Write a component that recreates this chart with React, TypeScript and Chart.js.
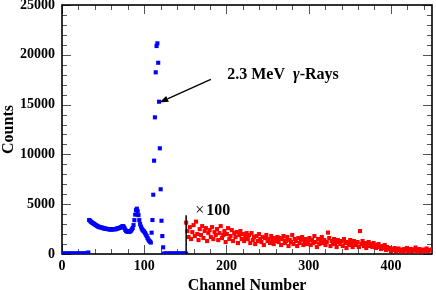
import React, { useEffect, useRef } from 'react';
import { Chart, registerables } from 'chart.js';

Chart.register(...registerables);

// Blue spectrum: counts per channel, channel = index (0..151)
const blueCounts = [
  30, 30, 30, 30, 30, 30, 30, 30, 30, 30, 30, 30, 30, 30, 30, 30, 30, 30, 30, 30,
  30, 30, 30, 30, 30, 30, 30, 30, 30, 40, 60, 90, 150,
  3410, 3350, 3250, 3200, 3120, 3080, 3020, 2960, 2910, 2860, 2800, 2760, 2720, 2690, 2670, 2650, 2640,
  2600, 2580, 2560, 2540, 2520, 2510, 2500, 2480, 2480, 2470, 2460, 2480, 2490, 2500, 2490, 2480, 2520,
  2560, 2580, 2600, 2620, 2660, 2700, 2760, 2800, 2750, 2600, 2420, 2320, 2260, 2240, 2230, 2240, 2280,
  2350, 2480, 2600, 2900, 3400, 3950, 4400, 4550, 4300, 3900, 3400, 3000, 2750, 2550, 2420, 2320, 2240,
  2100, 1950, 1800, 1600, 1450, 1330, 1240, 1150,
  2140, 3410, 5950, 9370, 13720, 18240, 20880, 21150, 19200, 15290, 10610, 6500, 3340, 1800, 670,
  30, 30, 30, 30, 30, 30, 30, 30, 30, 30, 30, 30, 30, 30, 30, 30, 30, 30, 30, 30, 30, 30, 30, 30, 30, 30, 30, 30,
];

// Red spectrum (x100): channels 151 .. 449.5, spacing 1.5 channels
const redStartChannel = 151;
const redChannelStep = 1.5;
const redCounts = [
  3150, 2300, 1700, 2700, 1500, 2200, 2900, 1800, 3250, 2000, 1400, 2500, 1900, 2800, 1600, 2300, 2600, 1300, 2100, 2400, 1700, 2700, 1500, 2200, 1900,
  2500, 1400, 2100, 2800, 1600, 1900, 2300, 1200, 2000, 2600, 1500, 1800, 2400, 1300, 2100, 1700, 2200, 1100, 1900, 2300, 1500, 2000, 1300, 1700, 2100,
  1500, 1900, 1100, 2100, 1400, 1700, 1000, 1800, 1300, 2000, 1500, 1200, 1700, 900, 1600, 1900, 1300, 1500, 1100, 1800, 1400, 1000, 1600, 1300, 1700,
  1200, 1600, 900, 1500, 1800, 1100, 1300, 1700, 800, 1400, 1200, 1900, 1000, 1500, 1300, 800, 1600, 1100, 1400, 1700, 900, 1300, 1500, 1000, 1200,
  1600, 900, 1400, 1100, 1800, 1200, 700, 1500, 1000, 1300, 1700, 1100, 1400, 900, 1200, 2150, 1600, 800, 1300, 1000, 1500, 1100, 700, 1400, 1200,
  1000, 1300, 800, 1500, 1100, 600, 1200, 900, 1400, 1000, 700, 1300, 900, 1100, 1200, 700, 2300, 1000, 1300, 800, 1100, 600, 900, 1200, 800,
  1000, 700, 1100, 800, 600, 900, 1000, 700, 500, 800, 600, 900, 400, 700, 500, 600, 300, 500, 400, 600, 300, 450, 550, 350, 250,
  450, 300, 500, 350, 600, 250, 400, 500, 300, 450, 350, 650, 250, 400, 500, 300, 350, 450, 250, 400, 550, 300, 400, 350, 450,
];

// Divider line between the two ranges
const dividerChannel = 151;
const dividerTop = 3900;

// Axes
const xMin = 0;
const xMax = 450;
const yMin = 0;
const yMax = 25000;
const xTickValues = [0, 100, 200, 300, 400];
const yTickValues = [0, 5000, 10000, 15000, 20000, 25000];
const xMinorStep = 20;
const yMinorStep = 1000;

const xTitle = 'Channel Number';
const yTitle = 'Counts';
const peakLabelA = '2.3 MeV ';
const peakLabelGamma = 'γ';
const peakLabelB = '-Rays';
const scaleLabel = '×100';

// Annotation anchor points (data coordinates)
const arrowTip = { x: 118.4, y: 15200 };
const arrowTail = { x: 181, y: 17540 };
const peakLabelPos = { x: 201, y: 17540 };
const scaleLabelPos = { x: 162, y: 3900 };

const FONT = '"Liberation Serif", "Times New Roman", serif';

const framePlugin = {
  id: 'frameTicks',
  beforeDatasetsDraw(chart: any) {
    const { ctx, chartArea, scales } = chart;
    const { left, right, top, bottom } = chartArea;
    const xs = scales.x;
    const ys = scales.y;
    ctx.save();
    ctx.strokeStyle = '#555';
    ctx.lineWidth = 1;
    ctx.beginPath();
    for (let v = xMin; v <= xMax; v += xMinorStep) {
      const px = Math.round(xs.getPixelForValue(v)) + 0.5;
      const len = v % 100 === 0 ? 9 : 5;
      ctx.moveTo(px, bottom);
      ctx.lineTo(px, bottom - len);
      ctx.moveTo(px, top);
      ctx.lineTo(px, top + len);
    }
    for (let v = yMin; v <= yMax; v += yMinorStep) {
      const py = Math.round(ys.getPixelForValue(v)) + 0.5;
      const len = v % 5000 === 0 ? 9 : 5;
      ctx.moveTo(left, py);
      ctx.lineTo(left + len, py);
      ctx.moveTo(right, py);
      ctx.lineTo(right - len, py);
    }
    ctx.stroke();
    ctx.strokeStyle = '#000';
    ctx.lineWidth = 1.6;
    ctx.strokeRect(left, top, right - left, bottom - top);
    ctx.restore();
  },
  afterDatasetsDraw(chart: any) {
    const { ctx, chartArea, scales } = chart;
    const xs = scales.x;
    const ys = scales.y;
    ctx.save();
    ctx.fillStyle = '#000';
    ctx.strokeStyle = '#000';

    // Axis titles
    ctx.font = `bold 16px ${FONT}`;
    ctx.textAlign = 'center';
    ctx.textBaseline = 'alphabetic';
    ctx.fillText(xTitle, (chartArea.left + chartArea.right) / 2, 289.5);
    ctx.save();
    ctx.translate(12.5, (chartArea.top + chartArea.bottom) / 2);
    ctx.rotate(-Math.PI / 2);
    ctx.fillText(yTitle, 0, 0);
    ctx.restore();

    // Peak label
    const lx = xs.getPixelForValue(peakLabelPos.x);
    const ly = ys.getPixelForValue(peakLabelPos.y);
    ctx.textAlign = 'left';
    ctx.font = `bold 16px ${FONT}`;
    ctx.fillText(peakLabelA, lx, ly);
    let w = ctx.measureText(peakLabelA).width;
    ctx.font = `bold italic 16px ${FONT}`;
    ctx.fillText(peakLabelGamma, lx + w + 4, ly);
    w += 4 + ctx.measureText(peakLabelGamma).width;
    ctx.font = `bold 16px ${FONT}`;
    ctx.fillText(peakLabelB, lx + w, ly);

    // Arrow
    const tx = xs.getPixelForValue(arrowTip.x);
    const ty = ys.getPixelForValue(arrowTip.y);
    const sx = xs.getPixelForValue(arrowTail.x);
    const sy = ys.getPixelForValue(arrowTail.y);
    const ang = Math.atan2(ty - sy, tx - sx);
    const headLen = 9;
    const headW = 3.2;
    const bx = tx - headLen * Math.cos(ang);
    const by = ty - headLen * Math.sin(ang);
    ctx.lineWidth = 1.3;
    ctx.beginPath();
    ctx.moveTo(sx, sy);
    ctx.lineTo(bx, by);
    ctx.stroke();
    ctx.beginPath();
    ctx.moveTo(tx, ty);
    ctx.lineTo(bx + headW * Math.sin(ang), by - headW * Math.cos(ang));
    ctx.lineTo(bx - headW * Math.sin(ang), by + headW * Math.cos(ang));
    ctx.closePath();
    ctx.fill();

    // x100 label
    const mx = xs.getPixelForValue(scaleLabelPos.x);
    const my = ys.getPixelForValue(scaleLabelPos.y);
    ctx.font = `16px ${FONT}`;
    ctx.fillText(scaleLabel.charAt(0), mx, my);
    const mw = ctx.measureText(scaleLabel.charAt(0)).width;
    ctx.font = `bold 16px ${FONT}`;
    ctx.fillText(scaleLabel.slice(1), mx + mw + 2, my);
    ctx.restore();
  },
};

export default function App() {
  const canvasRef = useRef<HTMLCanvasElement | null>(null);

  useEffect(() => {
    document.body.style.margin = '0';
    const canvas = canvasRef.current;
    if (!canvas) return;

    const blueData = blueCounts.map((v, i) => ({ x: i, y: v }));
    const redData = redCounts.map((v, i) => ({ x: redStartChannel + i * redChannelStep, y: v }));
    const dividerData = [
      { x: dividerChannel, y: 0 },
      { x: dividerChannel, y: dividerTop },
    ];

    const chart = new Chart(canvas, {
      type: 'scatter',
      data: {
        datasets: [
          {
            data: blueData,
            backgroundColor: '#0000ff',
            borderWidth: 0,
            pointStyle: 'rect',
            pointRadius: 2.9,
            order: 1,
          },
          {
            data: redData,
            backgroundColor: '#ff0000',
            borderWidth: 0,
            pointStyle: 'rect',
            pointRadius: 2.9,
            order: 2,
          },
          {
            data: dividerData,
            showLine: true,
            borderColor: '#000',
            borderWidth: 1.5,
            pointRadius: 0,
            order: 0,
          } as any,
        ],
      },
      options: {
        animation: false,
        responsive: false,
        maintainAspectRatio: false,
        events: [],
        layout: { padding: { top: 5, right: 2, left: 0, bottom: 0 } },
        plugins: {
          legend: { display: false },
          tooltip: { enabled: false },
          title: { display: false },
        },
        scales: {
          x: {
            type: 'linear',
            min: xMin,
            max: xMax,
            grid: { display: false, drawTicks: false },
            border: { display: false },
            afterBuildTicks: (scale: any) => {
              scale.ticks = xTickValues.map((v) => ({ value: v }));
            },
            afterFit: (scale: any) => {
              scale.height = 36;
              scale.paddingLeft = 0;
              scale.paddingRight = 0;
            },
            ticks: {
              color: '#000',
              padding: 4,
              maxRotation: 0,
              callback: (v: any) => String(v),
              font: { family: FONT, size: 14, weight: 'bold' },
            },
          },
          y: {
            type: 'linear',
            min: yMin,
            max: yMax,
            grid: { display: false, drawTicks: false },
            border: { display: false },
            afterBuildTicks: (scale: any) => {
              scale.ticks = yTickValues.map((v) => ({ value: v }));
            },
            afterFit: (scale: any) => {
              scale.width = 62;
              scale.paddingTop = 0;
              scale.paddingBottom = 0;
            },
            ticks: {
              color: '#000',
              padding: 7,
              callback: (v: any) => String(v),
              font: { family: FONT, size: 14, weight: 'bold' },
            },
          },
        },
      },
      plugins: [framePlugin],
    });

    return () => {
      chart.destroy();
    };
  }, []);

  return (
    <div style={{ width: 436, height: 290 }}>
      <canvas ref={canvasRef} width={436} height={290} style={{ display: 'block', width: 436, height: 290 }} />
    </div>
  );
}
